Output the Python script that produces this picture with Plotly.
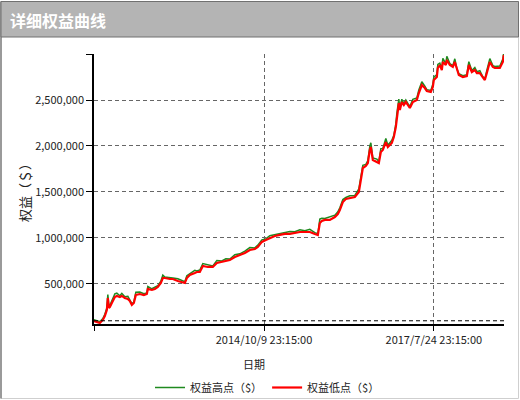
import plotly.graph_objects as go

DATES = [
    "2011-12-24", "2012-01-11", "2012-01-29", "2012-02-16", "2012-02-28", "2012-03-11", "2012-03-17",
    "2012-03-23", "2012-03-29", "2012-04-10", "2012-04-28", "2012-05-10", "2012-05-28", "2012-06-09",
    "2012-06-27", "2012-07-15", "2012-07-27", "2012-08-08", "2012-08-20", "2012-08-26", "2012-09-01",
    "2012-09-25", "2012-10-19", "2012-11-06", "2012-11-12", "2012-12-06", "2012-12-24", "2013-01-11",
    "2013-01-29", "2013-02-10", "2013-02-22", "2013-03-24", "2013-04-11", "2013-05-11", "2013-06-10",
    "2013-06-22", "2013-07-04", "2013-07-22", "2013-08-21", "2013-09-02", "2013-09-20", "2013-10-08",
    "2013-11-07", "2013-12-07", "2013-12-31", "2014-01-30", "2014-02-23", "2014-03-19", "2014-04-18",
    "2014-05-18", "2014-06-17", "2014-07-17", "2014-08-16", "2014-09-03", "2014-09-27", "2014-10-21",
    "2014-11-14", "2014-12-14", "2015-01-13", "2015-02-12", "2015-03-14", "2015-04-13", "2015-05-13",
    "2015-06-12", "2015-07-12", "2015-08-11", "2015-08-29", "2015-09-10", "2015-09-22", "2015-10-10",
    "2015-11-09", "2015-12-09", "2015-12-27", "2016-01-08", "2016-01-26", "2016-02-13", "2016-03-08",
    "2016-04-07", "2016-05-01", "2016-05-13", "2016-05-25", "2016-06-12", "2016-06-24", "2016-07-06",
    "2016-07-12", "2016-07-24", "2016-08-17", "2016-08-29", "2016-09-10", "2016-09-22", "2016-10-10",
    "2016-10-22", "2016-11-15", "2016-11-27", "2016-12-09", "2016-12-15", "2016-12-27", "2017-01-02",
    "2017-01-14", "2017-01-26", "2017-02-07", "2017-02-19", "2017-03-03", "2017-03-21", "2017-04-14",
    "2017-04-26", "2017-05-14", "2017-06-01", "2017-06-13", "2017-07-07", "2017-07-19", "2017-07-25",
    "2017-08-12", "2017-08-18", "2017-08-30", "2017-09-11", "2017-09-17", "2017-10-05", "2017-10-11",
    "2017-10-29", "2017-11-16", "2017-11-28", "2017-12-10", "2017-12-22", "2018-01-15", "2018-02-08",
    "2018-02-20", "2018-03-10", "2018-03-28", "2018-04-09", "2018-04-27", "2018-05-15", "2018-05-27",
    "2018-06-08", "2018-06-26", "2018-07-14", "2018-07-26", "2018-08-25", "2018-09-12", "2018-09-18",
]

EQUITY_LOW = [
    98000, 87000, 76000, 109000, 152000, 217000, 348000,
    239000, 250000, 293000, 359000, 370000, 359000, 370000,
    348000, 337000, 315000, 272000, 293000, 337000, 380000,
    391000, 380000, 391000, 446000, 435000, 446000, 467000,
    511000, 565000, 565000, 554000, 554000, 533000, 522000,
    511000, 565000, 598000, 620000, 630000, 630000, 696000,
    685000, 685000, 728000, 739000, 750000, 761000, 793000,
    815000, 837000, 870000, 880000, 902000, 957000, 978000,
    1000000, 1022000, 1033000, 1044000, 1044000, 1054000, 1065000,
    1065000, 1065000, 1044000, 1033000, 1163000, 1185000, 1196000,
    1196000, 1228000, 1261000, 1304000, 1391000, 1424000, 1435000,
    1446000, 1500000, 1652000, 1761000, 1783000, 1815000, 1957000,
    1989000, 1848000, 1826000, 1815000, 1935000, 1957000, 2043000,
    1989000, 2033000, 2098000, 2207000, 2315000, 2467000, 2391000,
    2478000, 2446000, 2478000, 2446000, 2413000, 2478000, 2500000,
    2576000, 2663000, 2630000, 2598000, 2587000, 2641000, 2717000,
    2750000, 2848000, 2880000, 2826000, 2913000, 2880000, 2935000,
    2880000, 2859000, 2913000, 2826000, 2772000, 2750000, 2761000,
    2880000, 2804000, 2826000, 2793000, 2793000, 2739000, 2717000,
    2793000, 2913000, 2859000, 2848000, 2848000, 2913000, 2990000,
]

EQUITY_HIGH = [
    112000, 98000, 90000, 124000, 170000, 240000, 385000,
    262000, 268000, 318000, 392000, 400000, 372000, 398000,
    362000, 366000, 326000, 286000, 304000, 352000, 410000,
    412000, 394000, 402000, 474000, 448000, 462000, 482000,
    530000, 596000, 576000, 574000, 566000, 556000, 534000,
    524000, 590000, 612000, 648000, 642000, 652000, 722000,
    712000, 696000, 756000, 750000, 774000, 772000, 818000,
    828000, 858000, 896000, 892000, 922000, 980000, 990000,
    1024000, 1036000, 1054000, 1058000, 1070000, 1068000, 1090000,
    1078000, 1094000, 1058000, 1046000, 1205000, 1214000, 1212000,
    1226000, 1248000, 1284000, 1328000, 1418000, 1440000, 1458000,
    1462000, 1534000, 1690000, 1790000, 1800000, 1842000, 1998000,
    2035000, 1870000, 1858000, 1830000, 1972000, 1974000, 2082000,
    2008000, 2062000, 2116000, 2240000, 2352000, 2510000, 2410000,
    2508000, 2462000, 2500000, 2464000, 2430000, 2508000, 2522000,
    2610000, 2698000, 2650000, 2612000, 2604000, 2672000, 2748000,
    2776000, 2886000, 2900000, 2842000, 2952000, 2896000, 2975000,
    2896000, 2874000, 2948000, 2842000, 2786000, 2764000, 2776000,
    2916000, 2820000, 2852000, 2808000, 2818000, 2752000, 2730000,
    2822000, 2950000, 2874000, 2864000, 2870000, 2946000, 3015000,
]

X_TICKS = ["2011-12-24 23:15:00", "2014-10-09 23:15:00", "2017-07-24 23:15:00"]
X_TICK_TEXT = ["", "2014/10/9 23:15:00", "2017/7/24 23:15:00"]
Y_TICKS = [500000, 1000000, 1500000, 2000000, 2500000, 3000000]
Y_TICK_TEXT = ["500,000", "1,000,000", "1,500,000", "2,000,000", "2,500,000", ""]
START_EQUITY = 100000

FONT = "Noto Sans CJK SC, sans-serif"

# plot area in pixels: x 94..504, y 54..324
L, R, T, B = 94, 504, 54, 324
W, H = R - L, B - T


def px(x):
    return (x - L) / W


def py(y):
    return (B - y) / H


fig = go.Figure()
fig.add_trace(go.Scatter(x=DATES, y=EQUITY_HIGH, name="权益高点（$）", mode="lines",
                         line=dict(color="#1f8a1f", width=1.5)))
fig.add_trace(go.Scatter(x=DATES, y=EQUITY_LOW, name="权益低点（$）", mode="lines",
                         line=dict(color="#ff0000", width=2.2)))

fig.update_layout(
    width=520, height=400, autosize=False,
    margin=dict(l=L, r=520 - R, t=T, b=400 - B),
    paper_bgcolor="white", plot_bgcolor="white",
    font=dict(family=FONT, size=11, color="#222222"),
    showlegend=True,
    legend=dict(orientation="h", xref="container", yref="container",
                x=150 / 520, y=1 - 373 / 400, xanchor="left", yanchor="top",
                font=dict(size=11, color="#222222"), bgcolor="rgba(0,0,0,0)",
                itemwidth=30, tracegroupgap=0),
    xaxis=dict(
        type="date", range=["2011-12-24 23:15:00", "2018-09-19"],
        tickvals=X_TICKS, ticktext=X_TICK_TEXT,
        showgrid=True, gridcolor="#666666", griddash="4px,3px", gridwidth=1,
        showline=True, linecolor="black", linewidth=2,
        ticks="outside", ticklen=5, tickcolor="black",
        zeroline=False, tickfont=dict(size=11), automargin=False,
    ),
    yaxis=dict(
        range=[65000, 3000000],
        tickvals=Y_TICKS, ticktext=Y_TICK_TEXT,
        showgrid=True, gridcolor="#666666", griddash="4px,3px", gridwidth=1,
        showline=True, linecolor="black", linewidth=1.5,
        ticks="outside", ticklen=6, tickcolor="black",
        zeroline=False, tickfont=dict(size=11), automargin=False,
    ),
)

# starting equity baseline
fig.add_shape(type="line", xref="paper", yref="y", x0=0, x1=1, y0=START_EQUITY, y1=START_EQUITY,
              line=dict(color="black", width=1, dash="4px,3px"))

# outer frame and title bar
fig.add_shape(type="rect", xref="paper", yref="paper", x0=px(1), x1=px(518.5), y0=py(398.5), y1=py(1.5),
              line=dict(color="#cfcfcf", width=1), fillcolor="rgba(0,0,0,0)", layer="below")
fig.add_shape(type="line", xref="paper", yref="paper", x0=px(1), x1=px(1), y0=py(398.5), y1=py(1.5),
              line=dict(color="#808080", width=1.5))
fig.add_shape(type="rect", xref="paper", yref="paper", x0=px(1), x1=px(518.5), y0=py(37), y1=py(1.5),
              line=dict(color="#707070", width=1), fillcolor="#b4b4b4")

fig.add_annotation(text="<b>详细权益曲线</b>", xref="paper", yref="paper", x=px(8), y=py(19.5),
                   xanchor="left", yanchor="middle", showarrow=False,
                   font=dict(family=FONT, size=16, color="white"))
fig.add_annotation(text="权益（＄）", xref="paper", yref="paper", x=px(24), y=py(190),
                   xanchor="center", yanchor="middle", showarrow=False, textangle=-90,
                   font=dict(family=FONT, size=13, color="#222222"))
fig.add_annotation(text="日期", xref="paper", yref="paper", x=px(254), y=py(364),
                   xanchor="center", yanchor="middle", showarrow=False,
                   font=dict(family=FONT, size=11, color="#222222"))

fig.write_html("out.html", config={"displayModeBar": False},
               post_script="document.body.style.margin='0';document.body.style.overflow='hidden';")
